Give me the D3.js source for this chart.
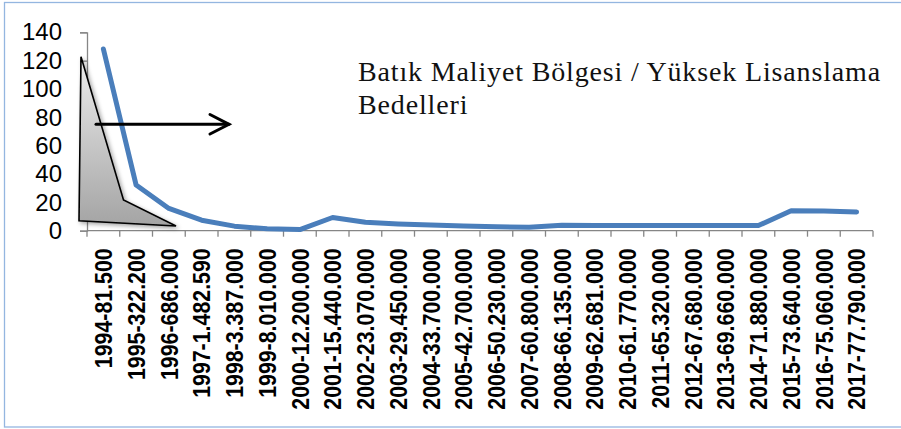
<!DOCTYPE html>
<html>
<head>
<meta charset="utf-8">
<script src="https://cdn.jsdelivr.net/npm/d3@7"></script>
<style>
  html, body { margin: 0; padding: 0; background: #fff; }
  svg { display: block; }
</style>
</head>
<body>
<div id="chart"></div>
<script>
// categories (year - licence fee) and plotted values
var categories = [
  "1994-81.500", "1995-322.200", "1996-686.000", "1997-1.482.590",
  "1998-3.387.000", "1999-8.010.000", "2000-12.200.000", "2001-15.440.000",
  "2002-23.070.000", "2003-29.450.000", "2004-33.700.000", "2005-42.700.000",
  "2006-50.230.000", "2007-60.800.000", "2008-66.135.000", "2009-62.681.000",
  "2010-61.770.000", "2011-65.320.000", "2012-67.680.000", "2013-69.660.000",
  "2014-71.880.000", "2015-73.640.000", "2016-75.060.000", "2017-77.790.000"
];
var values = [
  128.2, 32.2, 15.7, 7.4, 3.2, 1.3, 0.8, 9.3,
  5.9, 4.7, 4.0, 3.3, 2.8, 2.4, 3.8, 3.7,
  3.6, 3.6, 3.6, 3.6, 3.6, 14.1, 13.9, 13.2
];
var yTicks = [0, 20, 40, 60, 80, 100, 120, 140];
var noteLines = ["Batık Maliyet Bölgesi / Yüksek Lisanslama", "Bedelleri"];

var W = 901, H = 429;
var margin = {top: 32.3, left: 87, right: 28};
var plotBottom = 230.7;

var svg = d3.select("#chart").append("svg")
    .attr("width", W)
    .attr("height", H);

// outer chart border
svg.append("rect")
    .attr("x", 4.5).attr("y", 2.5)
    .attr("width", W + 10).attr("height", 424.5)
    .attr("fill", "#fff")
    .attr("stroke", "#94b6e0")
    .attr("stroke-width", 1.3);

var x = d3.scaleBand()
    .domain(categories)
    .range([margin.left, W - margin.right])
    .padding(0);

var y = d3.scaleLinear()
    .domain([0, 140])
    .range([plotBottom, margin.top]);

var defs = svg.append("defs");
var grad = defs.append("linearGradient")
    .attr("id", "triFill")
    .attr("x1", 0).attr("y1", 0).attr("x2", 0).attr("y2", 1);
grad.append("stop").attr("offset", "0%").attr("stop-color", "#ededed");
grad.append("stop").attr("offset", "100%").attr("stop-color", "#a4a4a4");

var shadow = defs.append("filter")
    .attr("id", "shadow")
    .attr("x", "-20%").attr("y", "-20%")
    .attr("width", "150%").attr("height", "150%");
shadow.append("feDropShadow")
    .attr("dx", 2).attr("dy", 2)
    .attr("stdDeviation", 2)
    .attr("flood-color", "#000")
    .attr("flood-opacity", 0.35);

// y axis
var yAxis = svg.append("g")
    .attr("transform", "translate(" + margin.left + ",0)")
    .call(d3.axisLeft(y).tickValues(yTicks).tickSize(7).tickSizeOuter(7).tickPadding(18));
yAxis.selectAll("path, line").attr("stroke", "#868686").attr("stroke-width", 1.3);
yAxis.selectAll("text")
    .attr("font-family", "'Liberation Sans', Arial, sans-serif")
    .attr("font-size", 24)
    .attr("fill", "#000");

// x axis: line, ticks between categories, rotated labels
var xAxis = svg.append("g");
xAxis.append("line")
    .attr("x1", x.range()[0]).attr("x2", x.range()[1])
    .attr("y1", plotBottom).attr("y2", plotBottom)
    .attr("stroke", "#868686").attr("stroke-width", 1.3);

var edges = categories.map(function(d) { return x(d); }).concat([x.range()[1]]);
xAxis.selectAll(".xtick")
    .data(edges)
    .enter().append("line")
    .attr("class", "xtick")
    .attr("x1", function(d) { return d; })
    .attr("x2", function(d) { return d; })
    .attr("y1", plotBottom)
    .attr("y2", plotBottom + 6)
    .attr("stroke", "#868686").attr("stroke-width", 1.3);

xAxis.selectAll(".xlabel")
    .data(categories)
    .enter().append("text")
    .attr("class", "xlabel")
    .attr("transform", function(d) {
        return "translate(" + (x(d) + x.bandwidth() / 2) + "," + (plotBottom + 17.6) + ") rotate(-90) scale(0.89,1)";
    })
    .attr("dy", "0.36em")
    .attr("text-anchor", "end")
    .attr("font-family", "'Liberation Sans', Arial, sans-serif")
    .attr("font-weight", "bold")
    .attr("font-size", 24)
    .attr("fill", "#000")
    .text(function(d) { return d; });

// shaded triangle (annotation shape)
var tri = [[81, 56.7], [79, 220.7], [176, 226], [123.5, 200]];
svg.append("path")
    .attr("d", "M" + tri.join("L") + "Z")
    .attr("fill", "url(#triFill)")
    .attr("stroke", "#000")
    .attr("stroke-width", 1.6)
    .attr("stroke-linejoin", "miter")
    .attr("filter", "url(#shadow)");

// data line
var line = d3.line()
    .x(function(d, i) { return x(categories[i]) + x.bandwidth() / 2; })
    .y(function(d) { return y(d); });

svg.append("path")
    .datum(values)
    .attr("d", line)
    .attr("fill", "none")
    .attr("stroke", "#4a7ebb")
    .attr("stroke-width", 5)
    .attr("stroke-linejoin", "round")
    .attr("stroke-linecap", "round");

// arrow
var arrow = svg.append("g")
    .attr("stroke", "#000")
    .attr("stroke-width", 3)
    .attr("fill", "none")
    .attr("stroke-linecap", "round");
arrow.append("line")
    .attr("x1", 96).attr("y1", 124.3)
    .attr("x2", 229).attr("y2", 124.3);
arrow.append("polyline")
    .attr("points", "210,114.5 229,124.3 210,134");

// note text
svg.selectAll(".note")
    .data(noteLines)
    .enter().append("text")
    .attr("class", "note")
    .attr("x", 358)
    .attr("y", function(d, i) { return 81 + i * 33.3; })
    .attr("font-family", "'Liberation Serif', 'Times New Roman', serif")
    .attr("font-size", 28)
    .attr("letter-spacing", 0.85)
    .attr("fill", "#111")
    .text(function(d) { return d; });
</script>
</body>
</html>
